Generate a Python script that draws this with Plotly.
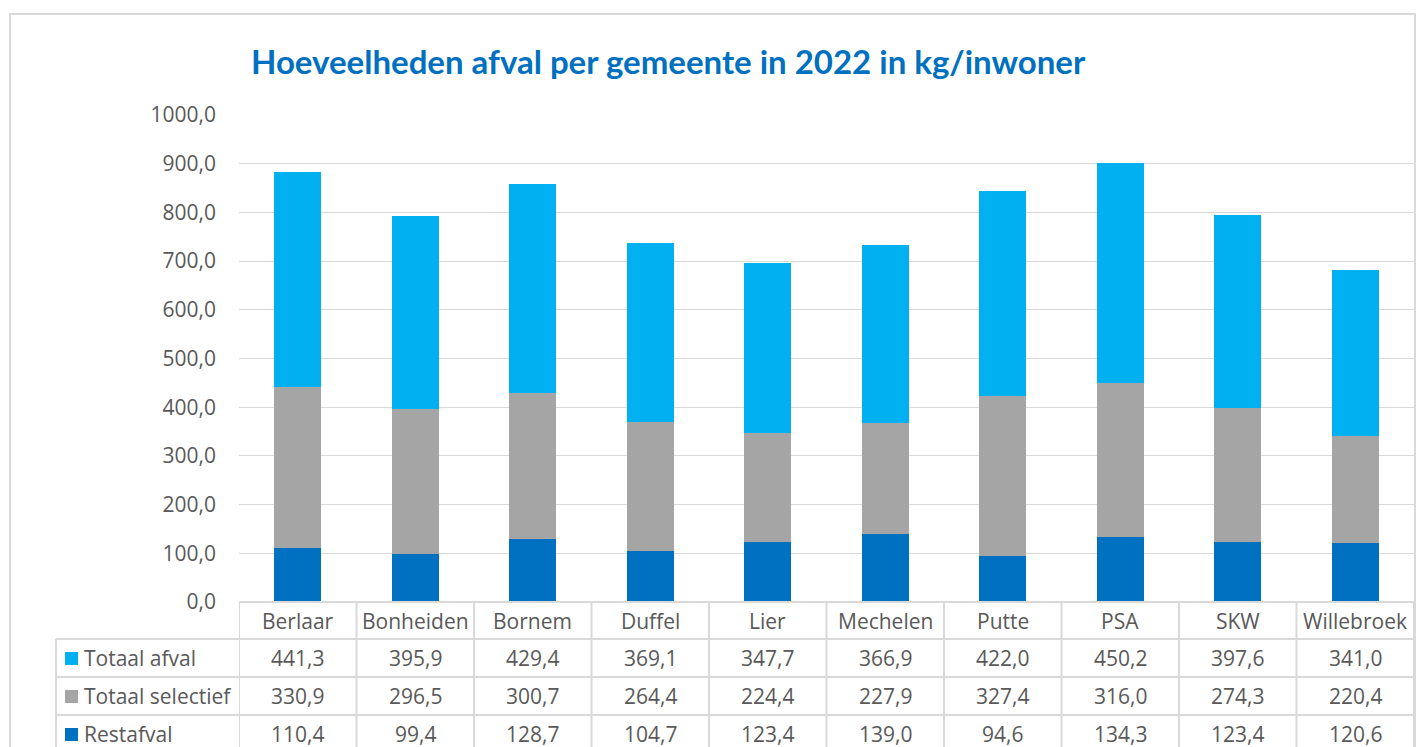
import plotly.graph_objects as go

W, H = 1417, 747

gemeenten = ["Berlaar", "Bonheiden", "Bornem", "Duffel", "Lier", "Mechelen", "Putte", "PSA", "SKW", "Willebroek"]
totaal_afval = [441.3, 395.9, 429.4, 369.1, 347.7, 366.9, 422.0, 450.2, 397.6, 341.0]
totaal_selectief = [330.9, 296.5, 300.7, 264.4, 224.4, 227.9, 327.4, 316.0, 274.3, 220.4]
restafval = [110.4, 99.4, 128.7, 104.7, 123.4, 139.0, 94.6, 134.3, 123.4, 120.6]

series_names = ["Totaal afval", "Totaal selectief", "Restafval"]
series_values = [totaal_afval, totaal_selectief, restafval]
series_colors = ["#00B0F0", "#A5A5A5", "#0070C0"]

title_text = "Hoeveelheden afval per gemeente in 2022 in kg/inwoner"

FONT = "Open Sans"
TFONT = "Lato"
FS = 21
TXT = "#595959"
GRID = "#D9D9D9"


def xp(px):
    return px / W


def yp(py):
    return 1 - py / H


def fmt(v):
    return f"{v:.1f}".replace(".", ",")


fig = go.Figure()
# stacked bottom-to-top: Restafval, Totaal selectief, Totaal afval
for name, vals, col in reversed(list(zip(series_names, series_values, series_colors))):
    fig.add_trace(go.Bar(x=gemeenten, y=vals, name=name, marker=dict(color=col, line=dict(width=0)),
                         hoverinfo="skip"))

plot_left, plot_right = 239, 1414
plot_top, plot_bottom = 115, 602
row_edges = [602, 639, 677, 715, 753]

fig.update_layout(
    width=W, height=H, autosize=False,
    margin=dict(l=0, r=0, t=0, b=0, pad=0, autoexpand=False),
    paper_bgcolor="white", plot_bgcolor="white",
    barmode="stack", bargap=0.6,
    showlegend=False,
    separators=",.",
    font=dict(family=FONT, color=TXT, size=FS),
    xaxis=dict(domain=[xp(plot_left), xp(plot_right)], range=[-0.5, len(gemeenten) - 0.5], automargin=False,
               showticklabels=False, showgrid=False, zeroline=False, showline=False, fixedrange=True),
    yaxis=dict(domain=[yp(plot_bottom), yp(plot_top)], range=[0, 1000], tickvals=list(range(0, 1001, 100)),
               automargin=False, fixedrange=True,
               tickformat=".1f", showgrid=True, gridcolor=GRID, gridwidth=1, zeroline=False, showline=False,
               ticks="", ticklabelstandoff=22, tickfont=dict(family=FONT, size=FS, color=TXT)),
)

shapes = []
# chart frame
shapes.append(dict(type="rect", xref="paper", yref="paper", x0=xp(10), x1=xp(1415), y0=yp(760), y1=yp(14),
                   line=dict(color=GRID, width=2), fillcolor="rgba(0,0,0,0)", layer="below"))
# table vertical lines at category boundaries
for i in range(len(gemeenten) + 1):
    shapes.append(dict(type="line", xref="x", yref="paper", x0=i - 0.5, x1=i - 0.5,
                       y0=yp(row_edges[0]), y1=yp(H + 10), line=dict(color=GRID, width=2)))
# table left column border
shapes.append(dict(type="line", xref="paper", yref="paper", x0=xp(56), x1=xp(56),
                   y0=yp(row_edges[1]), y1=yp(H + 10), line=dict(color=GRID, width=2)))
# horizontal lines
shapes.append(dict(type="line", xref="paper", yref="paper", x0=xp(plot_left), x1=xp(plot_right),
                   y0=yp(row_edges[0]), y1=yp(row_edges[0]), line=dict(color=GRID, width=2)))
for r in row_edges[1:4]:
    shapes.append(dict(type="line", xref="paper", yref="paper", x0=xp(56), x1=xp(plot_right),
                       y0=yp(r), y1=yp(r), line=dict(color=GRID, width=2)))

annotations = []
annotations.append(dict(text=title_text, xref="paper", yref="paper", x=xp(668), y=yp(61),
                        xanchor="center", yanchor="middle", showarrow=False,
                        font=dict(family=TFONT, size=33, color="#0070C0", weight="bold")))
# header row: category names
hc = (row_edges[0] + row_edges[1]) / 2
for g in gemeenten:
    annotations.append(dict(text=g, xref="x", yref="paper", x=g, y=yp(hc), xanchor="center", yanchor="middle",
                            showarrow=False, font=dict(family=FONT, size=FS, color=TXT)))
# data rows
for ri, (name, vals, col) in enumerate(zip(series_names, series_values, series_colors)):
    rc = (row_edges[ri + 1] + row_edges[ri + 2]) / 2
    shapes.append(dict(type="rect", xref="paper", yref="paper", x0=xp(65), x1=xp(78),
                       y0=yp(rc + 7), y1=yp(rc - 6), fillcolor=col, line=dict(width=0)))
    annotations.append(dict(text=name, xref="paper", yref="paper", x=xp(82), y=yp(rc), xanchor="left",
                            yanchor="middle", showarrow=False, font=dict(family=FONT, size=FS, color=TXT)))
    for g, v in zip(gemeenten, vals):
        annotations.append(dict(text=fmt(v), xref="x", yref="paper", x=g, y=yp(rc), xanchor="center",
                                yanchor="middle", showarrow=False, font=dict(family=FONT, size=FS, color=TXT)))

fig.update_layout(shapes=shapes, annotations=annotations)
fig.write_html("out.html", config={"displayModeBar": False},
               post_script="document.body.style.margin='0';document.body.style.overflow='hidden';")
